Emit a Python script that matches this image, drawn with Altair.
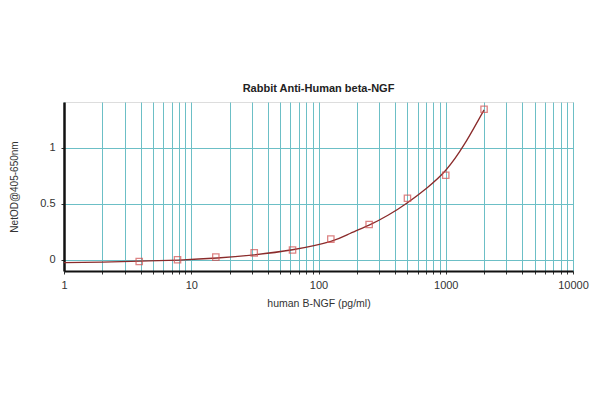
import altair as alt
import pandas as pd

# measured standards (pg/ml) and NetOD
conc = [3.9, 7.8, 15.6, 31.25, 62.5, 125, 250, 500, 1000, 2000]
od = [-0.015, 0.0, 0.024, 0.062, 0.088, 0.185, 0.315, 0.55, 0.755, 1.345]

# fitted curve
curve_x = [1, 2, 4, 8, 16, 31.25, 62.5, 125, 177, 250, 354, 500, 707, 1000, 1414, 2000]
curve_y = [-0.025, -0.02, -0.012, -0.002, 0.016, 0.045, 0.09, 0.165, 0.235, 0.31, 0.40, 0.51, 0.64, 0.80, 1.04, 1.34]

grid_x = [m * d for d in [1, 10, 100, 1000] for m in range(1, 10)] + [10000]

pts = pd.DataFrame({"x": conc, "y": od})
crv = pd.DataFrame({"x": curve_x, "y": curve_y})

GRID = "#6cbfc6"
FONT = "Liberation Sans"

xscale = alt.Scale(type="log", domain=[1, 10000], nice=False)
yscale = alt.Scale(domain=[-0.1, 1.41], nice=False, zero=False)

xaxis = alt.Axis(
    values=grid_x, format="d",
    labelExpr="indexof([1,10,100,1000,10000], datum.value) >= 0 ? datum.label : ''",
    grid=True, gridColor=GRID, gridWidth=1, gridOpacity=1,
    domainColor="#111", domainWidth=2, tickColor="#333", tickSize=3,
    labelFont=FONT, labelFontSize=11, labelColor="#333", labelPadding=5,
    title="human B-NGF (pg/ml)", titleFont=FONT, titleFontSize=10.5,
    titleFontWeight="normal", titleColor="#333", titlePadding=8,
    labelFlush=False, labelOverlap=False,
)
yaxis = alt.Axis(
    values=[0, 0.5, 1], format="~g", grid=True, gridColor=GRID, gridWidth=1, gridOpacity=1,
    domainColor="#111", domainWidth=2.5, tickColor="#333", tickSize=3,
    labelFont=FONT, labelFontSize=11, labelColor="#333", labelPadding=6,
    title="NetOD@405-650nm", titleFont=FONT, titleFontSize=10,
    titleFontWeight="normal", titleColor="#333", titlePadding=20,
)

line = alt.Chart(crv).mark_line(color="#8a2b2b", strokeWidth=1.3, interpolate="natural").encode(
    x=alt.X("x:Q", scale=xscale, axis=xaxis),
    y=alt.Y("y:Q", scale=yscale, axis=yaxis),
)
points = alt.Chart(pts).mark_point(shape="square", size=40, filled=False,
                                   color="#d05050", strokeWidth=1.3).encode(
    x=alt.X("x:Q", scale=xscale),
    y=alt.Y("y:Q", scale=yscale),
)

chart = alt.layer(line, points).properties(
    width=509, height=169,
    title=alt.TitleParams("Rabbit Anti-Human beta-NGF", font=FONT, fontSize=11,
                          fontWeight="bold", color="#222", offset=8),
    autosize=alt.AutoSizeParams(type="none"),
    padding={"left": 56, "top": 94, "right": 19, "bottom": 105},
).configure_view(stroke="#333", strokeWidth=2).configure(background="white")

chart.save("out.html", embed_options={"renderer": "svg", "actions": False})
